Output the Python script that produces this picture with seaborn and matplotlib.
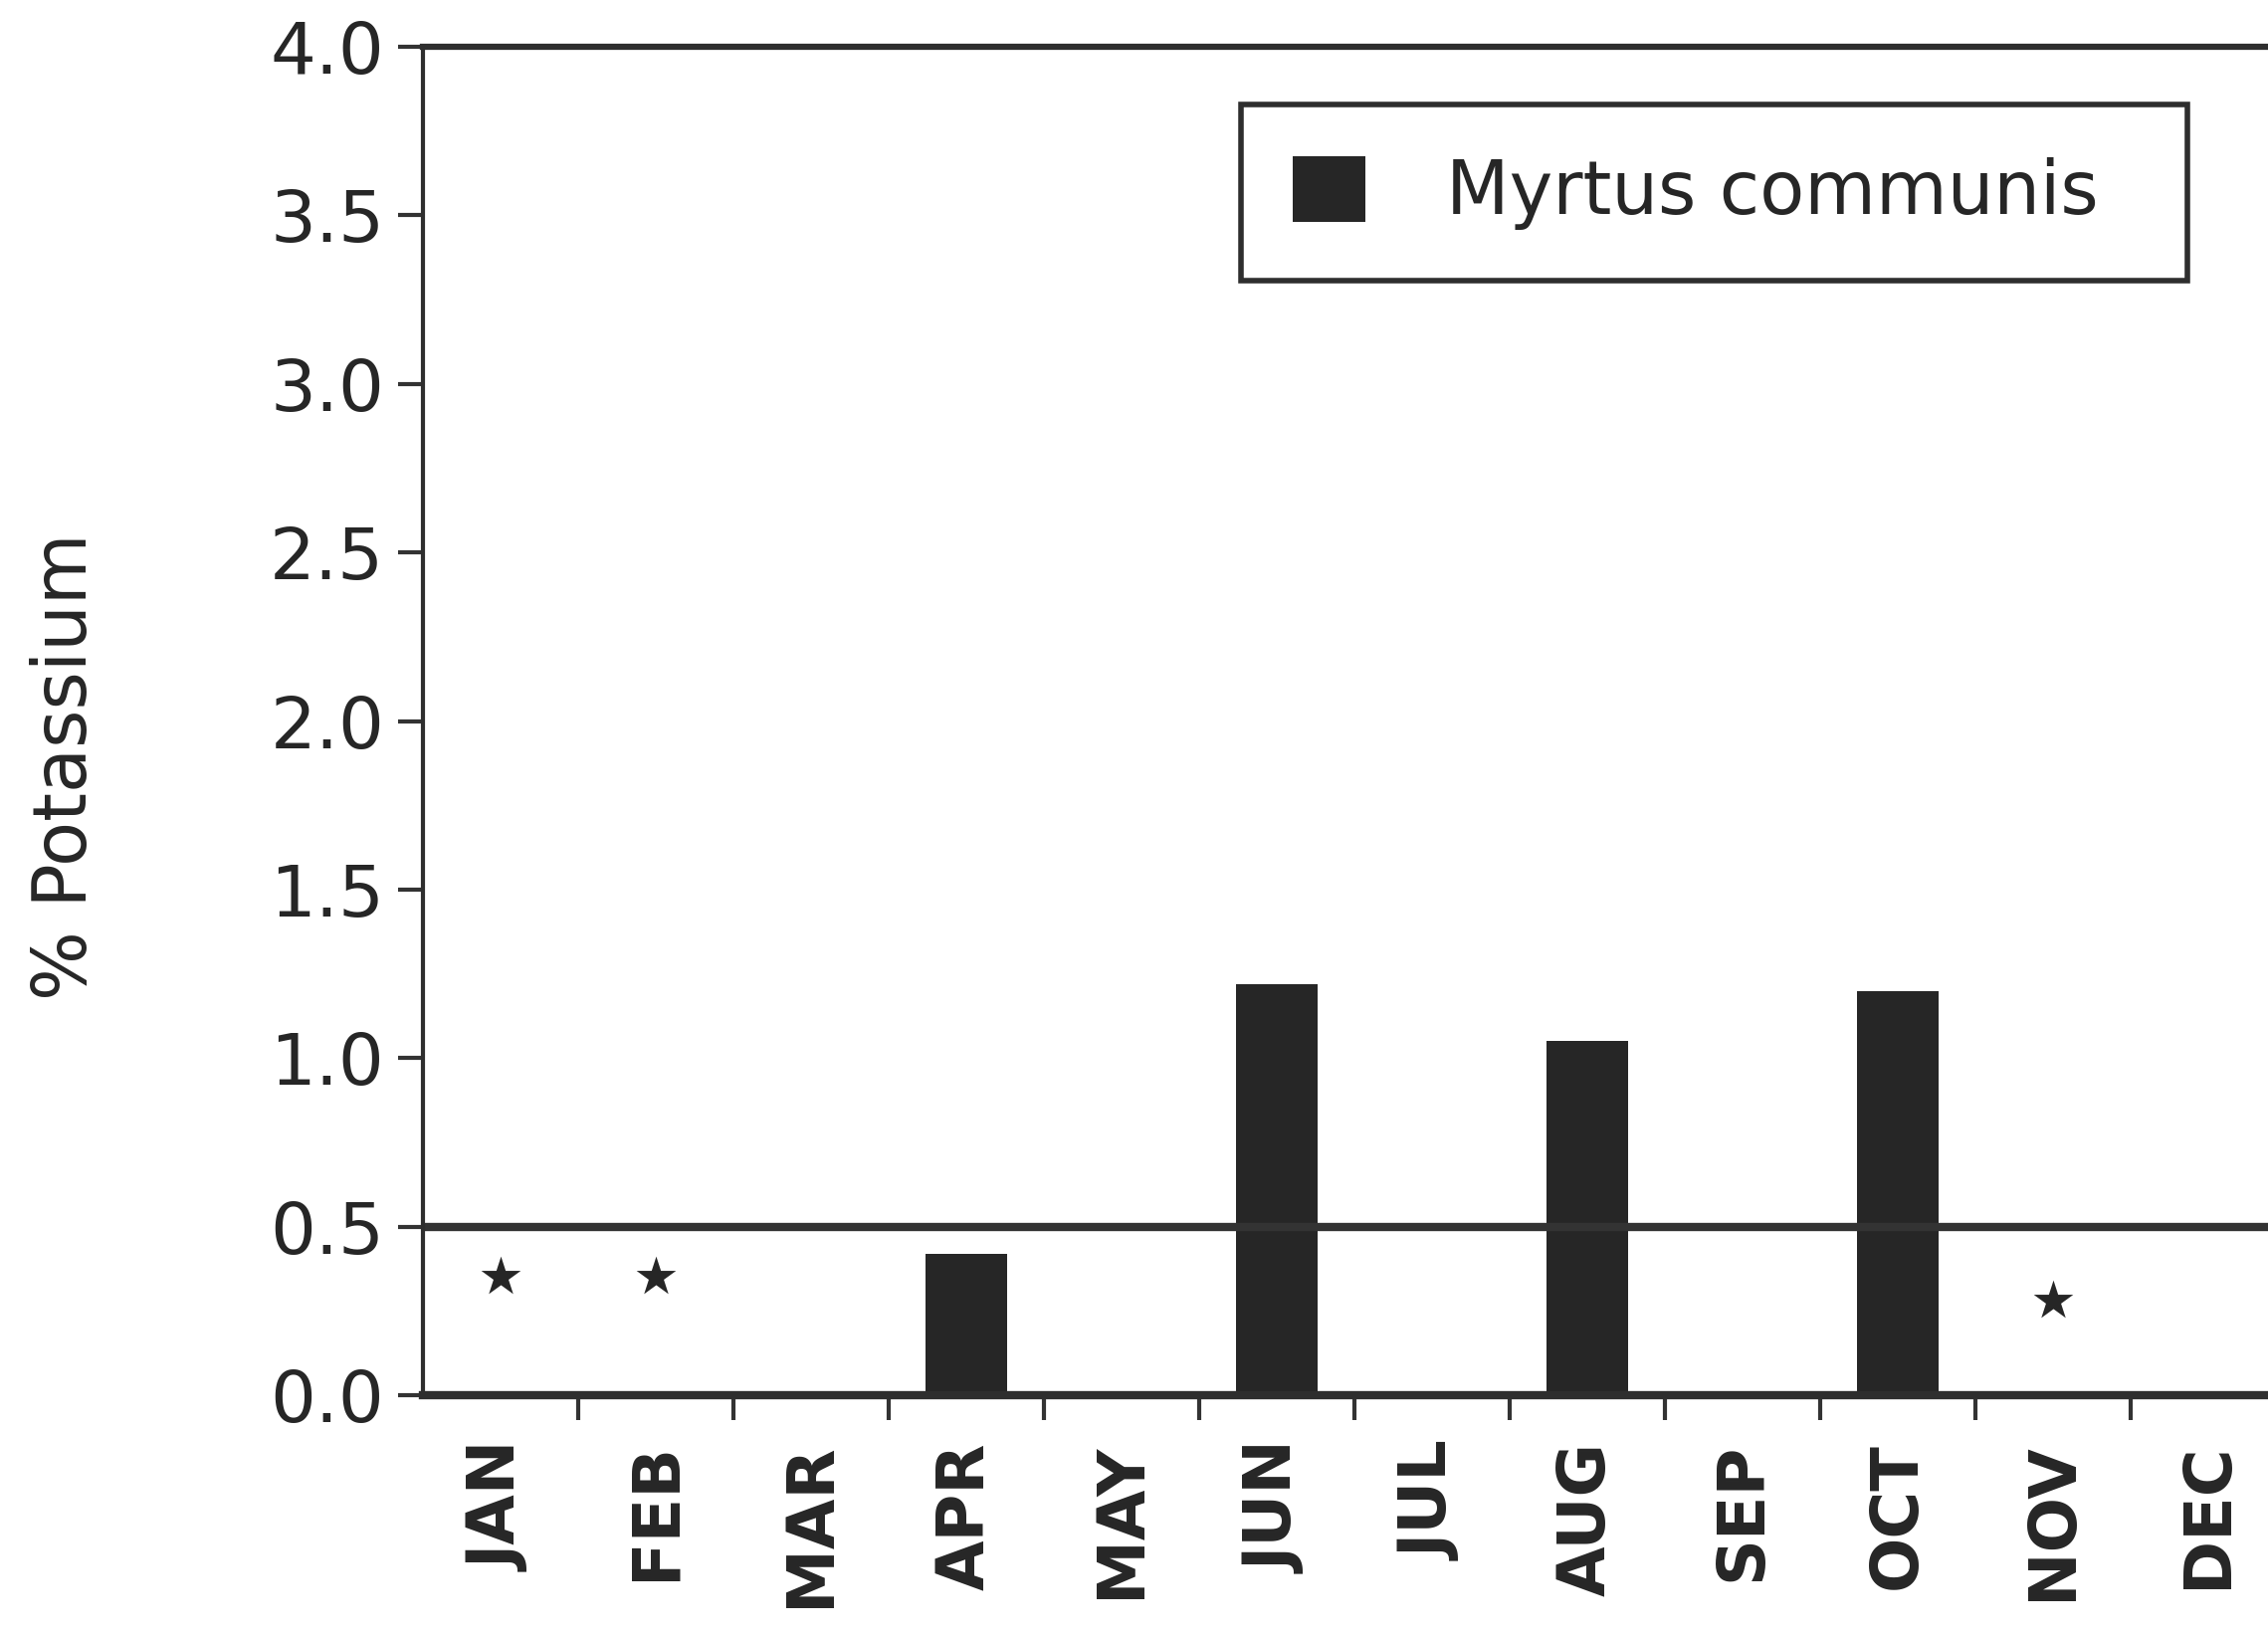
import numpy as np
import pandas as pd
from matplotlib import pyplot as plt
from matplotlib.ticker import FixedLocator, NullFormatter
import seaborn as sns

sns.set_theme(style='white')
plt.rcParams['font.family'] = ['DejaVu Sans']

months = ['JAN', 'FEB', 'MAR', 'APR', 'MAY', 'JUN', 'JUL', 'AUG', 'SEP', 'OCT', 'NOV', 'DEC']
potassium = [np.nan, np.nan, np.nan, 0.42, np.nan, 1.22, np.nan, 1.05, np.nan, 1.20, np.nan, np.nan]
# months marked with an asterisk (trace only)
trace = [0.35, 0.35, np.nan, np.nan, np.nan, np.nan, np.nan, np.nan, np.nan, np.nan, 0.28, np.nan]
limit = 0.5
yticks = [0.0, 0.5, 1.0, 1.5, 2.0, 2.5, 3.0, 3.5, 4.0]
species = 'Myrtus communis'

df = pd.DataFrame({'month': months, 'K': potassium, 'trace': trace})

ink = '#262626'
fig = plt.figure(figsize=(22.79, 16.45), dpi=100)
ax = fig.add_axes([0.1865, 0.1477, 0.8214, 0.8237])

sns.barplot(data=df, x='month', y='K', order=months, color=ink, width=0.52,
            saturation=1, edgecolor='none', label=species, ax=ax)
sns.stripplot(data=df, x='month', y='trace', order=months, jitter=False,
              marker='*', size=30, color=ink, linewidth=0, ax=ax)
ax.axhline(limit, color='#333333', lw=6, zorder=1)

ax.set_xlim(-0.5, 11.5)
ax.set_ylim(0, 4.0)
ax.set_yticks(yticks)
ax.set_yticklabels([f'{v:.1f}' for v in yticks])

# ticks sit between the months, labels at the month centres
ax.xaxis.set_major_locator(FixedLocator(np.arange(0.5, 11, 1.0)))
ax.xaxis.set_major_formatter(NullFormatter())
ax.xaxis.set_minor_locator(FixedLocator(range(len(months))))
ax.set_xticklabels(months, minor=True, rotation=90, fontsize=47,
                   fontweight='bold', color=ink, va='top')
ax.tick_params(axis='x', which='major', direction='out', length=18, width=3,
               color='#333333', bottom=True)
ax.tick_params(axis='x', which='minor', length=0, pad=34, bottom=True)
ax.tick_params(axis='y', direction='out', length=18, width=3, color='#333333',
               labelsize=52, labelcolor=ink, pad=10, left=True)

ax.set_xlabel('')
ax.set_ylabel('% Potassium', fontsize=53, color=ink)
ax.yaxis.set_label_coords(-0.172, 0.466)

for side, lw in [('left', 3), ('top', 4.5), ('bottom', 6)]:
    ax.spines[side].set_linewidth(lw)
    ax.spines[side].set_color('#2e2e2e')
ax.spines['right'].set_visible(False)

leg = ax.legend(loc='upper right', bbox_to_anchor=(0.5472, 0.836, 0.4173, 0.1),
                bbox_transform=fig.transFigure, mode='expand', fontsize=53,
                frameon=True, fancybox=False, framealpha=1, handlelength=1.0,
                handleheight=1.0, handletextpad=1.1, borderpad=0.7,
                borderaxespad=0)
leg.get_frame().set_edgecolor('#2e2e2e')
leg.get_frame().set_linewidth(4)
for t in leg.get_texts():
    t.set_color(ink)

plt.savefig('out.png', dpi=100)
